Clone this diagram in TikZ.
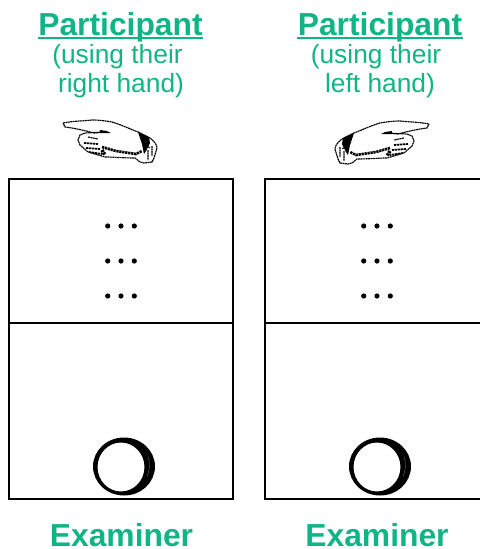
\documentclass[tikz,border=0pt]{standalone}
\usepackage{fontspec}
\setmainfont{Liberation Sans}
\definecolor{labelgreen}{RGB}{16,180,134}
\tikzset{
	title/.style={text=labelgreen,font=\fontsize{18.1}{20}\selectfont\bfseries,inner sep=0pt,anchor=base},
	hint/.style={text=labelgreen,font=\fontsize{15}{17}\selectfont,inner sep=0pt,anchor=base},
	panel/.style={draw=black,line width=0.85pt,inner sep=0pt,minimum width=224*0.02cm},
	rule/.style={labelgreen,line width=1.1pt},
	rough/.style={line width=0.65pt,dash pattern=on 1.1pt off 0.3pt},
	stipple/.style={line width=1.5pt,dash pattern=on 1.3pt off 0.4pt},
	hand/.pic={
		\draw[rough,fill=white] (-45,-19) .. controls (-35,-21) and (-25,-21) .. (-16,-22)
			.. controls (-8,-22) and (-2,-21) .. (4,-20)
			.. controls (14,-17) and (22,-13) .. (30,-10) -- (42,-4)
			.. controls (47,0) and (49,3) .. (49,6) -- (46,16) -- (44,20) -- (36,21) -- (32,20) -- (27,16)
			.. controls (15,16) and (6,15) .. (-3,15) -- (-20,10) -- (-28,3) -- (-30,-2) -- (-28,-7) -- (-23,-9) -- (-3,-10)
			-- (-14,-9) .. controls (-25,-12) and (-35,-14) .. (-43,-15) -- cycle;
		\fill[black] (30,-10) -- (41,-5) -- (42,1) -- (38,9) -- (36,12) -- (34,2) -- cycle;
		\fill[black] (-8,-12) -- (-1,-11) -- (3,-9) -- (-8,-9) -- cycle;
		\draw[stipple] (-6,5) -- (8,9) -- (28,12) -- (34,9);
		\draw[stipple,line width=2pt] (-6,8) -- (-3,13);
		\draw[stipple,line width=1pt] (-24,1) -- (-10,2) (-22,6) -- (-8,7) (-19,10) -- (-6,12);
		\draw[rough] (36,2) -- (42,6) (44,4) -- (44,14) (40,8) -- (40,18) (-20,-5) -- (-10,-3);
	},
	knob/.pic={
		\fill[black,even odd rule] (3,0) ellipse[x radius=31,y radius=29] (0,0.5) ellipse[x radius=23.5,y radius=24.5];
		\draw[black!55,line width=0.2pt] (27,-10) .. controls (29,-4) and (29,4) .. (26,10);
	}
}
\begin{document}
\begin{tikzpicture}[x=0.02cm,y=-0.02cm]
	\useasboundingbox (0,0) rectangle (480,549);
	% left side
	\node[title] (partL) at (120.5,35) {Participant};
	\draw[rule] (partL.base west) ++(0,3.3) coordinate (ulL) -- (ulL -| partL.base east);
	\node[hint] (usingL) at (117.5,63) {(using their};
	\node[hint] (handL) at (121,92) {right hand)};
	\pic (pointL) at (108,142) {hand};
	\node[panel,minimum height=144*0.02cm] (topL) at (121,251) {};
	\node[panel,minimum height=176*0.02cm] (botL) at (121,411) {};
	\node[title] (examL) at (121.5,546) {Examiner};
	% right side
	\node[title] (partR) at (380,35) {Participant};
	\draw[rule] (partR.base west) ++(0,3.3) coordinate (ulR) -- (ulR -| partR.base east);
	\node[hint] (usingR) at (376,63) {(using their};
	\node[hint] (handR) at (380,92) {left hand)};
	\pic[xscale=-1] (pointR) at (384,143) {hand};
	\node[panel,minimum height=144*0.02cm] (topR) at (377,251) {};
	\node[panel,minimum height=176*0.02cm] (botR) at (377,411) {};
	\node[title] (examR) at (377,546) {Examiner};
	% dots and knobs
	\foreach \cx in {121,377} {
		\foreach \cy in {226,261,296} {
			\foreach \dx in {-13.3,0,13.3} {
				\fill[black] (\cx+\dx,\cy) circle[radius=2.6];
			}
		}
		\pic at (\cx,466.5) {knob};
	}
\end{tikzpicture}
\end{document}
